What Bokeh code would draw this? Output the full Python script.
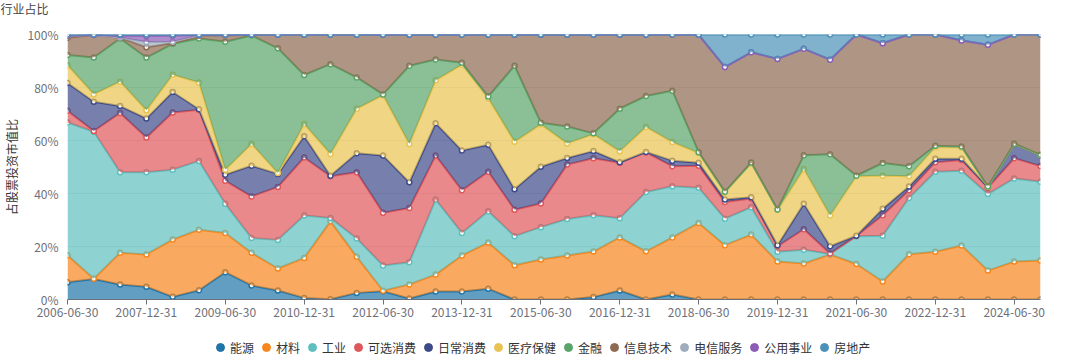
import numpy as np
from bokeh.plotting import figure
from bokeh.layouts import column
from bokeh.models import Range1d, FixedTicker, Legend, LegendItem, ColumnDataSource, Label
from bokeh.embed import file_html
from bokeh.resources import INLINE

dates = ["2006-06-30", "2006-12-31", "2007-06-30", "2007-12-31", "2008-06-30", "2008-12-31",
         "2009-06-30", "2009-12-31", "2010-06-30", "2010-12-31", "2011-06-30", "2011-12-31",
         "2012-06-30", "2012-12-31", "2013-06-30", "2013-12-31", "2014-06-30", "2014-12-31",
         "2015-06-30", "2015-12-31", "2016-06-30", "2016-12-31", "2017-06-30", "2017-12-31",
         "2018-06-30", "2018-12-31", "2019-06-30", "2019-12-31", "2020-06-30", "2020-12-31",
         "2021-06-30", "2021-12-31", "2022-06-30", "2022-12-31", "2023-06-30", "2023-12-31",
         "2024-06-30", "2024-12-31"]

names = ["能源", "材料", "工业", "可选消费", "日常消费", "医疗保健", "金融",
         "信息技术", "电信服务", "公用事业", "房地产"]

energy = [6.5, 7.7, 5.7, 4.8, 1.0, 3.5, 10.3, 5.3, 3.4, 0.6, 0.1, 2.5, 3.1, 0.4, 3.0, 3.0, 4.1, 0, 0,
          0, 0.9, 3.4, 0, 1.9, 0, 0, 0, 0, 0, 0, 0, 0, 0, 0, 0, 0, 0, 0]
materials = [10.2, 0.1, 11.9, 12.2, 21.6, 22.8, 14.8, 12.3, 8.3, 15.1, 29.4, 13.6, 0.2, 5.3, 6.4, 13.6,
             17.4, 12.9, 15.1, 16.6, 17.2, 20.0, 18.2, 21.5, 28.9, 20.5, 24.5, 14.3, 13.6, 17.0, 13.4,
             6.8, 17.1, 18.0, 20.4, 10.9, 14.3, 14.7]
industrials = [50.1, 55.5, 30.4, 31.0, 26.4, 26.0, 11.0, 5.6, 10.8, 16.0, 1.3, 6.9, 9.5, 8.4, 28.3, 8.5,
               11.8, 11.0, 12.2, 13.8, 13.7, 7.3, 22.4, 19.3, 13.3, 10.0, 10.3, 3.7, 5.2, 0.2, 10.5,
               17.3, 21.2, 30.2, 28.2, 28.9, 31.4, 29.7]
discretionary = [4.4, 0.3, 22.4, 13.1, 21.6, 19.3, 8.7, 15.7, 20.0, 21.9, 15.7, 25.0, 19.9, 20.4, 16.6,
                 16.1, 14.9, 10.0, 8.9, 20.5, 21.5, 20.9, 14.9, 7.6, 8.3, 6.3, 3.3, 2.1, 7.7, 0.2, 0.1,
                 7.7, 2.9, 3.6, 4.0, 2.4, 7.6, 6.0]
staples = [10.5, 11.0, 2.6, 7.2, 7.7, 0.2, 2.3, 11.6, 4.9, 8.0, 0.2, 7.2, 21.6, 9.7, 12.2, 15.0, 10.2,
           7.7, 13.9, 2.5, 2.7, 0.2, 0.2, 2.1, 1.1, 0.9, 0.5, 0.4, 9.6, 2.7, 0.1, 2.4, 1.4, 1.3, 0.5,
           0.2, 5.3, 4.0]
healthcare = [6.7, 2.9, 9.2, 3.1, 6.5, 10.1, 1.9, 8.2, 0.3, 4.6, 8.2, 16.8, 22.8, 14.5, 16.2, 32.4, 17.5,
              17.9, 16.0, 5.5, 6.4, 4.1, 9.4, 7.0, 3.7, 2.7, 12.8, 13.3, 13.1, 11.6, 22.4, 12.5, 3.9,
              4.4, 4.4, 0.1, 0.1, 0.1]
financials = [3.9, 13.8, 16.3, 19.9, 11.7, 16.6, 48.3, 40.9, 47.1, 18.5, 33.9, 11.8, 0.3, 29.5, 7.9, 0.7,
              0.7, 28.7, 0.6, 6.4, 0.3, 16.1, 11.7, 19.4, 0.3, 0.3, 0.3, 0.2, 5.2, 23.1, 0.2, 4.8, 3.8,
              0.5, 0.2, 0.1, 0.1, 0.1]
infotech = [6.5, 8.5, 0.3, 3.9, 0.3, 1.0, 2.3, 0.3, 5.1, 15.2, 11.1, 16.1, 22.5, 11.7, 9.3, 10.6, 23.3,
            11.7, 33.2, 34.6, 37.2, 27.9, 23.1, 21.1, 44.3, 47.0, 41.6, 56.8, 40.2, 35.7, 53.3, 45.2,
            49.7, 42.0, 40.0, 53.5, 41.2, 45.4]
telecom = [0.7, 0, 0.1, 2.0, 0.5, 0.2, 0.1, 0, 0, 0, 0, 0, 0, 0, 0, 0, 0, 0, 0,
           0, 0, 0, 0, 0, 0, 0, 0, 0, 0, 0, 0, 0, 0, 0, 0, 0, 0, 0]
utilities = [0, 0, 0.7, 2.3, 2.3, 0.1, 0.1, 0, 0, 0, 0, 0, 0, 0, 0, 0, 0, 0, 0,
             0, 0, 0, 0, 0, 0, 0, 0, 0, 0, 0, 0, 0, 0, 0, 0, 0, 0, 0]
realestate = [0.5, 0.2, 0.4, 0.5, 0.4, 0.2, 0.2, 0.1, 0.1, 0.1, 0.1, 0.1, 0.1, 0.1, 0.1, 0.1, 0.1, 0.1,
              0.1, 0.1, 0.1, 0.1, 0.1, 0.1, 0.1, 12.3, 6.7, 9.2, 5.4, 9.5, 0, 3.3, 0, 0, 2.3, 3.9, 0, 0]

series = [energy, materials, industrials, discretionary, staples, healthcare, financials,
          infotech, telecom, utilities, realestate]
colors = ["#1f74a8", "#f7861c", "#5ebfbf", "#e0575a", "#3d4a8a", "#e8c350", "#5aa469",
          "#8d6a50", "#9eacbb", "#8c5cb5", "#4a90b8"]
tick_idx = list(range(0, len(dates), 3))
y_ticks = [0, 20, 40, 60, 80, 100]

FONT = "Noto Sans CJK SC"

# title strip (its frame spans the whole strip, not aligned to the chart frame)
tt = figure(width=1064, height=20, output_backend="svg", toolbar_location=None,
            x_range=Range1d(0, 1), y_range=Range1d(0, 1), x_axis_type=None, y_axis_type=None,
            min_border=0)
try:
    tt.frame_align = False
    title_x = 0
except Exception:
    title_x = 0
tt.outline_line_color = None
tt.background_fill_color = "white"
tt.border_fill_color = "white"
tt.add_layout(Label(x=title_x, y=12, x_units="screen", y_units="screen", text="行业占比",
                    text_font=FONT, text_font_size="12px", text_color="#464646",
                    text_baseline="middle", text_align="left"))

# main chart
p = figure(width=1064, height=309, output_backend="svg", toolbar_location=None,
           x_range=Range1d(0, len(dates) - 1), y_range=Range1d(0, 100),
           min_border_left=58, min_border_right=24, min_border_top=14, min_border_bottom=30)
p.outline_line_color = None
p.background_fill_color = "white"
p.border_fill_color = "white"

x = np.arange(len(dates))
base = np.zeros(len(dates))
for name, vals, col in zip(names, series, colors):
    top = base + np.array(vals, dtype=float)
    src = ColumnDataSource(dict(x=x, y1=base.copy(), y2=top))
    p.varea(x="x", y1="y1", y2="y2", source=src, fill_color=col, fill_alpha=0.7)
    p.line(x="x", y="y2", source=src, line_color=col, line_width=2)
    p.scatter(x="x", y="y2", source=src, size=5, marker="circle",
              fill_color="white", line_color=col, line_width=1.5)
    base = top

xa = p.xaxis[0]
xa.ticker = FixedTicker(ticks=tick_idx)
xa.major_label_overrides = {i: dates[i] for i in tick_idx}
xa.minor_tick_line_color = None
xa.major_tick_out = 5
xa.major_tick_in = 0
xa.axis_line_color = "#6e7079"
xa.major_tick_line_color = "#6e7079"
xa.major_label_text_color = "#6e7079"
xa.major_label_text_font_size = "12px"
xa.major_label_text_font = FONT
xa.major_label_standoff = 3

ya = p.yaxis[0]
ya.ticker = FixedTicker(ticks=y_ticks)
ya.major_label_overrides = {v: f"{v}%" for v in y_ticks}
ya.axis_line_color = None
ya.major_tick_line_color = None
ya.minor_tick_line_color = None
ya.major_label_text_color = "#6e7079"
ya.major_label_text_font_size = "12px"
ya.major_label_text_font = FONT
ya.major_label_standoff = 3
ya.axis_label = "占股票投资市值比"
ya.axis_label_text_font = FONT
ya.axis_label_text_font_size = "12px"
ya.axis_label_text_font_style = "normal"
ya.axis_label_text_color = "#333333"
ya.axis_label_standoff = 4

p.xgrid.grid_line_color = None
p.ygrid.grid_line_color = "#e0e6f1"
p.ygrid.ticker = FixedTicker(ticks=y_ticks)

# legend strip
lg = figure(width=1064, height=30, output_backend="svg", toolbar_location=None,
            x_range=Range1d(0, 1), y_range=Range1d(0, 1), x_axis_type=None, y_axis_type=None,
            min_border=0)
lg.outline_line_color = None
lg.background_fill_color = "white"
lg.border_fill_color = "white"
items = []
for name, col in zip(names, colors):
    r = lg.scatter(x=[-10], y=[-10], marker="circle", size=10, fill_color=col, line_color=col)
    items.append(LegendItem(label=name, renderers=[r]))
legend = Legend(items=items, orientation="horizontal", location=(143, 2),
                glyph_width=20, glyph_height=20, label_height=20, label_standoff=0, spacing=2,
                padding=0, margin=0, label_text_font_size="12px", label_text_font=FONT,
                label_text_color="#333333", border_line_alpha=0, background_fill_alpha=0)
lg.add_layout(legend, "center")

layout = column(tt, p, lg, spacing=0)
open("out.html", "w").write(file_html(layout, INLINE))
